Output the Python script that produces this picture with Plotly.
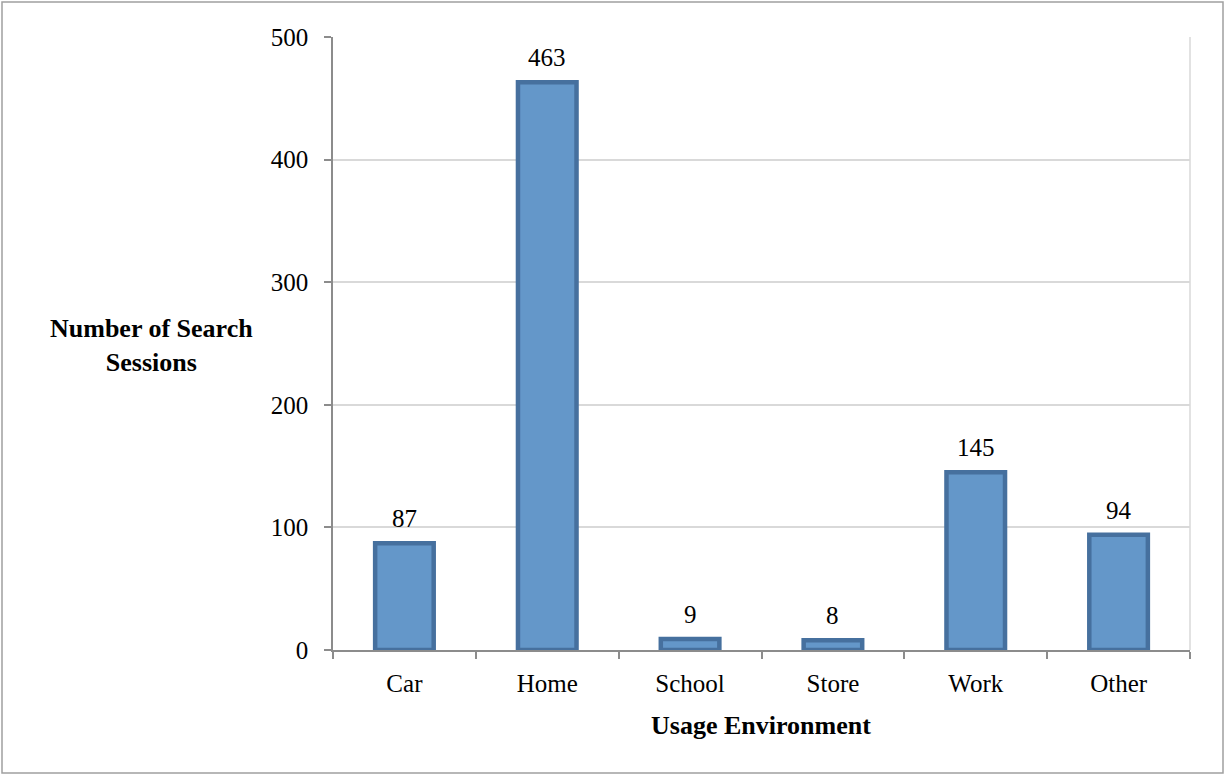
import plotly.graph_objects as go

categories = ["Car", "Home", "School", "Store", "Work", "Other"]
sessions = [87, 463, 9, 8, 145, 94]
y_ticks = [0, 100, 200, 300, 400, 500]

W, H = 1225, 775
L, R, T, B = 333, 35, 37, 125
pw, ph = W - L - R, H - T - B

def px_x(p):
    return (p - L) / pw

def px_y(p):
    return (H - B - p) / ph

font = "Liberation Serif, Times New Roman, serif"
FS = 25

fig = go.Figure(go.Bar(
    x=categories, y=sessions,
    marker=dict(color="#6497C9", line=dict(color="#46709E", width=4.5)),
    width=0.41,
    cliponaxis=False,
    hoverinfo="skip",
))

value_labels = [
    dict(x=c, y=v, text=str(v), xref="x", yref="y", showarrow=False,
         xanchor="center", yanchor="bottom", yshift=9,
         font=dict(family=font, size=FS, color="black"))
    for c, v in zip(categories, sessions)
]

fig.update_layout(
    width=W, height=H,
    margin=dict(l=L, r=R, t=T, b=B),
    paper_bgcolor="white", plot_bgcolor="white",
    font=dict(family=font, size=FS, color="black"),
    showlegend=False,
    xaxis=dict(
        showline=True, linecolor="#8c8c8c", linewidth=1.5,
        ticks="outside", ticklen=7, tickcolor="#8c8c8c", tickwidth=1.5,
        tickson="boundaries", showgrid=False,
        tickfont=dict(family=font, size=FS),
        ticklabelstandoff=10,
    ),
    yaxis=dict(
        range=[0, 500], tickvals=y_ticks,
        showline=True, linecolor="#8c8c8c", linewidth=1.5,
        ticks="outside", ticklen=7, tickcolor="#8c8c8c", tickwidth=1.5,
        showgrid=True, gridcolor="#d9d9d9", gridwidth=1.5,
        zeroline=False,
        tickfont=dict(family=font, size=FS),
        ticklabelstandoff=11,
    ),
    annotations=value_labels + [
        dict(text="<b>Number of Search<br>Sessions</b>", xref="paper", yref="paper",
             x=px_x(151), y=px_y(345), xanchor="center", yanchor="middle",
             showarrow=False, align="center",
             font=dict(family=font, size=26, color="black")),
        dict(text="<b>Usage Environment</b>", xref="paper", yref="paper",
             x=px_x(761), y=px_y(725), xanchor="center", yanchor="middle",
             showarrow=False,
             font=dict(family=font, size=26, color="black")),
    ],
    shapes=[
        dict(type="rect", xref="paper", yref="paper",
             x0=px_x(2), x1=px_x(1223), y0=px_y(773), y1=px_y(2),
             line=dict(color="#a0a0a0", width=1.5)),
        dict(type="line", xref="paper", yref="paper",
             x0=1, x1=1, y0=0, y1=1, line=dict(color="#d9d9d9", width=1.5)),
    ],
)

fig.write_html("out.html", config={"displayModeBar": False},
               post_script="document.body.style.margin='0';document.body.style.overflow='hidden';")
